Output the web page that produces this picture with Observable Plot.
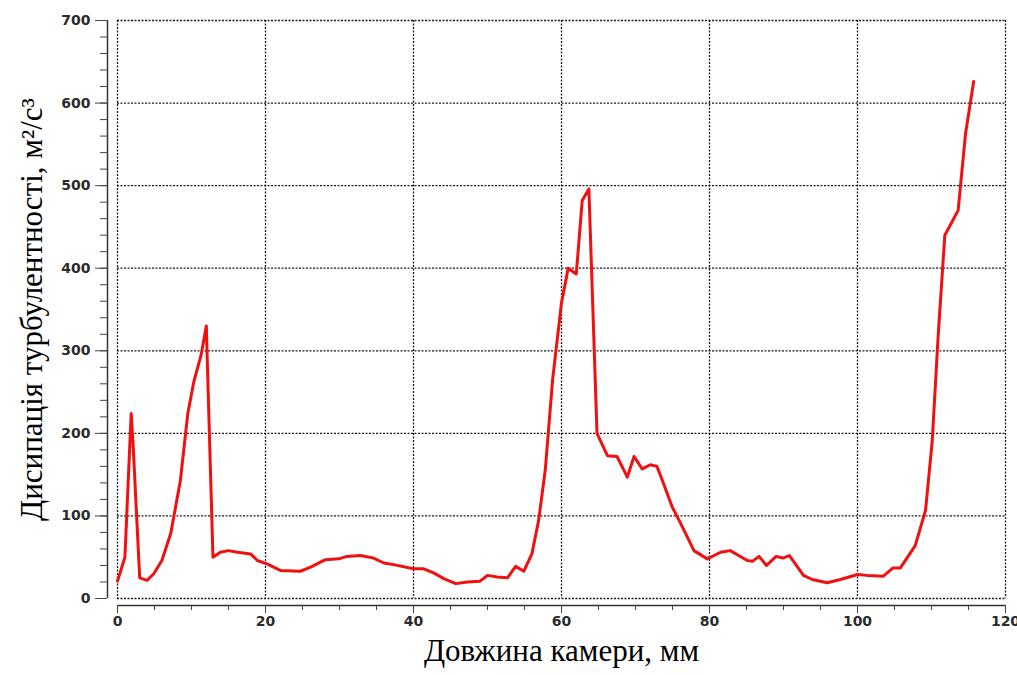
<!DOCTYPE html>
<html>
<head>
<meta charset="utf-8">
<script src="https://cdn.jsdelivr.net/npm/d3@7"></script>
<script src="https://cdn.jsdelivr.net/npm/@observablehq/plot@0.6"></script>
<style>
  html, body { margin: 0; padding: 0; background: #fff; }
  #chart { width: 1017px; height: 675px; }
</style>
</head>
<body>
<div id="chart"></div>
<script>
// Chamber length, mm
const lengthMm = [0, 1, 1.85, 2.1, 3, 4, 4.9, 6, 7.2, 8.5, 9.5, 10.3, 11.3, 12, 12.9, 13.9, 15, 16.2, 18, 18.9, 20.2, 22, 24.7, 26.1, 28.1, 29.9, 31, 32.8, 34.6, 36, 37.3, 40, 41.4, 42.7, 44.1, 45.7, 47.3, 49, 50, 51.3, 52.7, 53.8, 54.9, 56, 56.9, 57.8, 58.8, 60, 60.9, 62, 62.8, 63.7, 64.8, 66.2, 67.5, 68.9, 69.8, 70.9, 72, 72.9, 73.8, 75, 76.1, 77.9, 79.7, 81.5, 82.8, 85.1, 85.8, 86.7, 87.7, 89, 89.9, 90.8, 92.7, 93.9, 95.9, 97.7, 100, 101.3, 103.5, 104.8, 105.8, 107.8, 109.2, 110.1, 110.9, 111.8, 113.6, 114.6, 115.7];
// Turbulence dissipation, m2/s3
const dissipation = [21, 50, 224, 188, 25, 22, 30, 46, 79, 143, 224, 262, 295, 330, 50, 56, 58, 56, 54, 46, 42, 34, 33, 38, 47, 48, 51, 52, 49, 43, 41, 36, 36, 31, 24, 18, 20, 21, 28, 26, 25, 39, 33, 54, 94, 155, 265, 358, 400, 393, 482, 496, 200, 173, 172, 147, 172, 157, 162, 160, 139, 110, 91, 58, 48, 56, 58, 46, 45, 51, 40, 51, 49, 52, 28, 23, 19, 23, 29, 28, 27, 37, 37, 64, 107, 191, 318, 440, 470, 563, 626];

const xGrid = [0, 20, 40, 60, 80, 100, 120];
const yGrid = [0, 100, 200, 300, 400, 500, 600, 700];
const xMinor = d3.range(0, 121, 5);
const yMinor = d3.range(0, 701, 20);
const xTitle = "Довжина камери, мм";
const yTitle = "Дисипація турбулентності, м²/с³";

const data = lengthMm.map((x, i) => ({x, y: dissipation[i]}));

const tickFont = {fontFamily: "DejaVu Sans", fontSize: 14, fontWeight: "bold", fill: "#2b2b2b"};

const chart = Plot.plot({
  width: 1017,
  height: 675,
  marginLeft: 117,
  marginRight: 12,
  marginTop: 20,
  marginBottom: 77,
  x: {domain: [0, 120], axis: null},
  y: {domain: [0, 700], axis: null},
  style: {background: "#fff"},
  marks: [
    Plot.gridX(xGrid, {stroke: "#000", strokeOpacity: 0.9, strokeWidth: 1.3, strokeDasharray: "2,1.5"}),
    Plot.gridY(yGrid, {stroke: "#000", strokeOpacity: 0.9, strokeWidth: 1.3, strokeDasharray: "2,1.5"}),
    // axis lines
    Plot.ruleX([0], {y1: 0, y2: 700, dx: -10, stroke: "#333", strokeWidth: 1.5}),
    Plot.ruleY([0], {x1: 0, x2: 120, dy: 7, stroke: "#333", strokeWidth: 1.5}),
    // y ticks
    Plot.axisY(yMinor, {tickSize: 7, dx: -10, tickFormat: () => "", stroke: "#444", label: null}),
    Plot.axisY(yGrid, {tickSize: 12, dx: -10, tickPadding: 5, stroke: "#444", label: null, ...tickFont}),
    // x ticks
    Plot.axisX(xMinor, {tickSize: 5, dy: 7, tickFormat: () => "", stroke: "#444", label: null}),
    Plot.axisX(xGrid, {tickSize: 8, dy: 7, tickPadding: 3, stroke: "#444", label: null, ...tickFont}),
    // the curve
    Plot.line(data, {x: "x", y: "y", stroke: "#f01010", strokeWidth: 3, strokeLinejoin: "round"}),
    // titles
    Plot.text([xTitle], {frameAnchor: "bottom", dy: 62, textAnchor: "middle", fontFamily: "Liberation Serif", fontSize: 31, fill: "#000"}),
    Plot.text([yTitle], {frameAnchor: "left", dx: -85, rotate: -90, textAnchor: "middle", fontFamily: "Liberation Serif", fontSize: 31, fill: "#000"})
  ]
});
document.getElementById("chart").appendChild(chart);
</script>
</body>
</html>
